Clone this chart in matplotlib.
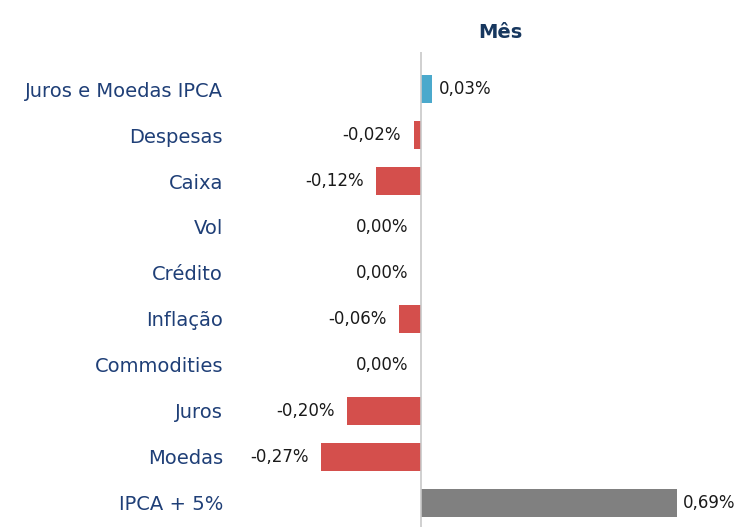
import matplotlib
matplotlib.use("Agg")
import matplotlib.pyplot as plt

categories = ["Juros e Moedas IPCA", "Despesas", "Caixa", "Vol", "Crédito",
              "Inflação", "Commodities", "Juros", "Moedas", "IPCA + 5%"]
values = [0.03, -0.02, -0.12, 0.00, 0.00, -0.06, 0.00, -0.20, -0.27, 0.69]
labels = ["0,03%", "-0,02%", "-0,12%", "0,00%", "0,00%", "-0,06%", "0,00%",
          "-0,20%", "-0,27%", "0,69%"]
colors = ["#4BA9CC", "#D44F4C", "#D44F4C", "#D44F4C", "#D44F4C", "#D44F4C",
          "#D44F4C", "#D44F4C", "#D44F4C", "#808080"]

W, H = 740, 527
fig = plt.figure(figsize=(W / 100, H / 100), dpi=100)
ax_left, ax_right = 230, 740
ax_top, ax_bottom = 52, 527
ax = fig.add_axes([ax_left / W, 1 - ax_bottom / H, (ax_right - ax_left) / W,
                   (ax_bottom - ax_top) / H])

zero_px = 421
scale = 371.0
ax.set_xlim((ax_left - zero_px) / scale, (ax_right - zero_px) / scale)
row = 46.0
ax.set_ylim(9 + (527 - 503) / row, -(89 - 52) / row)

pos = list(range(len(categories)))
ax.barh(pos, values, height=0.63, color=colors, zorder=2)

for y, v, lab in zip(pos, values, labels):
    if v > 0:
        ax.annotate(lab, (v, y), xytext=(4.5, 0), textcoords="offset points",
                    ha="left", va="center", fontsize=12, color="#1A1A1A")
    else:
        ax.annotate(lab, (v, y), xytext=(-9, 0), textcoords="offset points",
                    ha="right", va="center", fontsize=12, color="#1A1A1A")

ax.set_yticks(pos)
ax.set_yticklabels(categories, fontsize=14, color="#1F3F77")
ax.tick_params(axis="y", length=0, pad=5)
ax.set_xticks([])
for s in ["top", "right", "bottom", "left"]:
    ax.spines[s].set_visible(False)
ax.axvline(0, color="#C8C8C8", lw=1.2, zorder=3)

fig.text(500 / W, 1 - 33 / H, "Mês", ha="center", va="center",
         fontsize=14, fontweight="bold", color="#17375E")

fig.savefig("out.png", dpi=100)
